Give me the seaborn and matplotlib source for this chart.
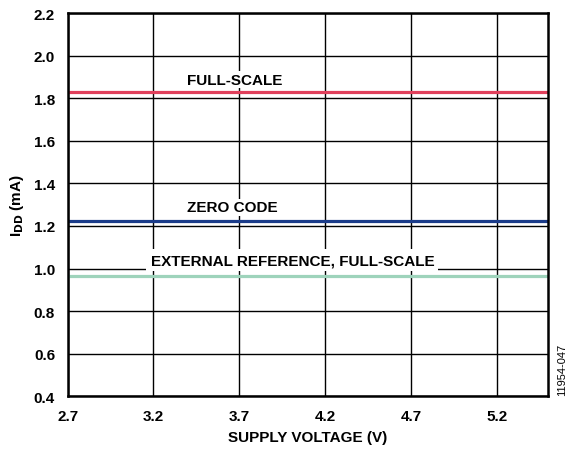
import matplotlib
matplotlib.use("Agg")
import matplotlib.pyplot as plt
import seaborn as sns
import pandas as pd

supply_v = [2.7, 3.2, 3.7, 4.2, 4.7, 5.2, 5.5]
full_scale = [1.831, 1.831, 1.831, 1.831, 1.831, 1.831, 1.831]
zero_code = [1.225, 1.225, 1.225, 1.225, 1.225, 1.225, 1.225]
ext_ref_fs = [0.963, 0.963, 0.963, 0.963, 0.963, 0.963, 0.963]
series_names = ["FULL-SCALE", "ZERO CODE", "EXTERNAL REFERENCE, FULL-SCALE"]
x_ticks = [2.7, 3.2, 3.7, 4.2, 4.7, 5.2]
y_ticks = [0.4, 0.6, 0.8, 1.0, 1.2, 1.4, 1.6, 1.8, 2.0, 2.2]

colors = ["#E0405C", "#1B3C8A", "#9ED3BB"]

sns.set_theme(style="white")
plt.rcParams['font.family'] = ['Liberation Sans', 'DejaVu Sans']
plt.rcParams['text.color'] = 'black'
plt.rcParams['axes.labelcolor'] = 'black'
plt.rcParams['xtick.color'] = 'black'
plt.rcParams['ytick.color'] = 'black'

fig = plt.figure(figsize=(5.68, 4.52), dpi=100)
ax = fig.add_axes([0.119, 0.121, 0.846, 0.848])

df = pd.DataFrame({
    "V": supply_v * 3,
    "I": full_scale + zero_code + ext_ref_fs,
    "s": [series_names[0]] * len(supply_v) + [series_names[1]] * len(supply_v) + [series_names[2]] * len(supply_v),
})
sns.lineplot(data=df, x="V", y="I", hue="s", palette=colors, linewidth=2.3,
             legend=False, ax=ax, zorder=3)

ax.set_xlim(2.7, 5.5)
ax.set_ylim(0.4, 2.2)
ax.set_xticks(x_ticks)
ax.set_yticks(y_ticks)
ax.set_xticklabels([f"{t:.1f}" for t in x_ticks], fontsize=11, fontweight="bold", color="black")
ax.set_yticklabels([f"{t:.1f}" for t in y_ticks], fontsize=11, fontweight="bold", color="black")
ax.tick_params(axis="both", length=0)
ax.tick_params(axis="x", pad=9)
ax.tick_params(axis="y", pad=9)
ax.grid(True, color="#000000", linewidth=1.0)
ax.set_axisbelow(True)
for sp in ax.spines.values():
    sp.set_visible(True)
    sp.set_color("#000000")
    sp.set_linewidth(1.8)
    sp.set_zorder(5)

ax.set_xlabel("SUPPLY VOLTAGE (V)", fontsize=11, fontweight="bold", labelpad=5, color="black")
ax.set_ylabel(r"I$_\mathbf{DD}$ (mA)", fontsize=11, fontweight="bold", labelpad=6, color="black")

bbox = dict(facecolor="white", edgecolor="none", pad=1.0)
ax.text(3.674, 1.887, series_names[0], ha="center", va="center", fontsize=11,
        fontweight="bold", bbox=bbox, zorder=4, color="black")
ax.text(3.66, 1.287, series_names[1], ha="center", va="center", fontsize=11,
        fontweight="bold", bbox=bbox, zorder=4, color="black")
ax.text(4.01, 1.039, series_names[2], ha="center", va="center", fontsize=11,
        fontweight="bold", bbox=dict(facecolor="white", edgecolor="none", pad=3.0), zorder=4, color="black")

fig.text(0.99, 0.124, "11954-047", rotation=90, fontsize=8, ha="center", va="bottom", color="black")

fig.savefig("out.png", dpi=100)
